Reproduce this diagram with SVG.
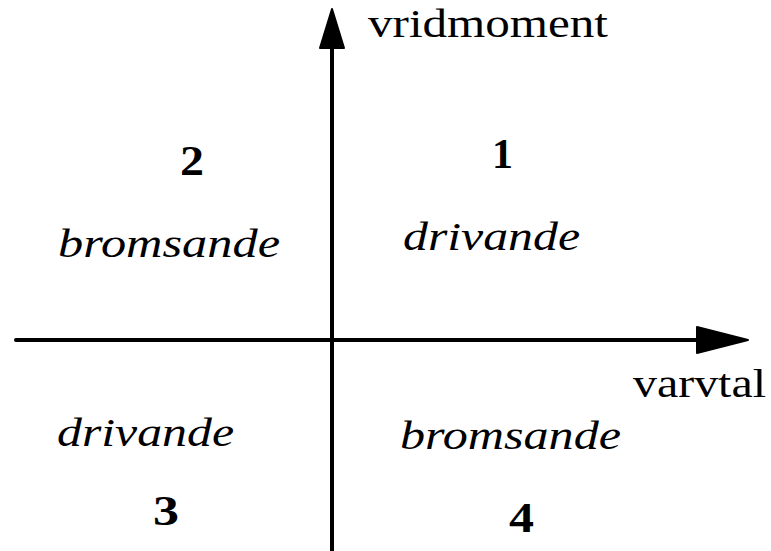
<svg xmlns="http://www.w3.org/2000/svg" width="771" height="551" viewBox="0 0 771 551">
<style>
.ax{stroke:#000;stroke-width:4;fill:none;stroke-linecap:round}
.ah{fill:#000;stroke:#000;stroke-width:2;stroke-linejoin:round}
text{font-family:"Liberation Serif","Times New Roman",Times,serif;font-size:40px;fill:#000}
.num{font-weight:bold;font-size:42px}
.it{font-style:italic}
</style>
<rect width="771" height="551" fill="#fff"/>
<g id="connectors">
<line class="ax" x1="16" y1="340" x2="700" y2="340"/>
<polygon class="ah" points="697,327 748,340 697,353"/>
<line class="ax" x1="332" y1="551" x2="332" y2="45"/>
<polygon class="ah" points="320,48 332,9 344,48"/>
</g>
<g id="label-vridmoment"><text font-family="Liberation Serif" x="368" y="37" textLength="240" lengthAdjust="spacingAndGlyphs">vridmoment</text></g>
<g id="label-varvtal"><text font-family="Liberation Serif" x="633" y="397" textLength="133" lengthAdjust="spacingAndGlyphs">varvtal</text></g>
<g id="q1"><text class="num" font-family="Liberation Serif" x="492" y="168" textLength="21" lengthAdjust="spacingAndGlyphs">1</text><text class="it" font-family="Liberation Serif" x="403" y="250" textLength="177" lengthAdjust="spacingAndGlyphs">drivande</text></g>
<g id="q2"><text class="num" font-family="Liberation Serif" x="180" y="175" textLength="24" lengthAdjust="spacingAndGlyphs">2</text><text class="it" font-family="Liberation Serif" x="58" y="257" textLength="222" lengthAdjust="spacingAndGlyphs">bromsande</text></g>
<g id="q3"><text class="it" font-family="Liberation Serif" x="57" y="446" textLength="177" lengthAdjust="spacingAndGlyphs">drivande</text><text class="num" font-family="Liberation Serif" x="153" y="525" textLength="26" lengthAdjust="spacingAndGlyphs">3</text></g>
<g id="q4"><text class="it" font-family="Liberation Serif" x="400" y="449" textLength="221" lengthAdjust="spacingAndGlyphs">bromsande</text><text class="num" font-family="Liberation Serif" x="509" y="532" textLength="25" lengthAdjust="spacingAndGlyphs">4</text></g>
</svg>
